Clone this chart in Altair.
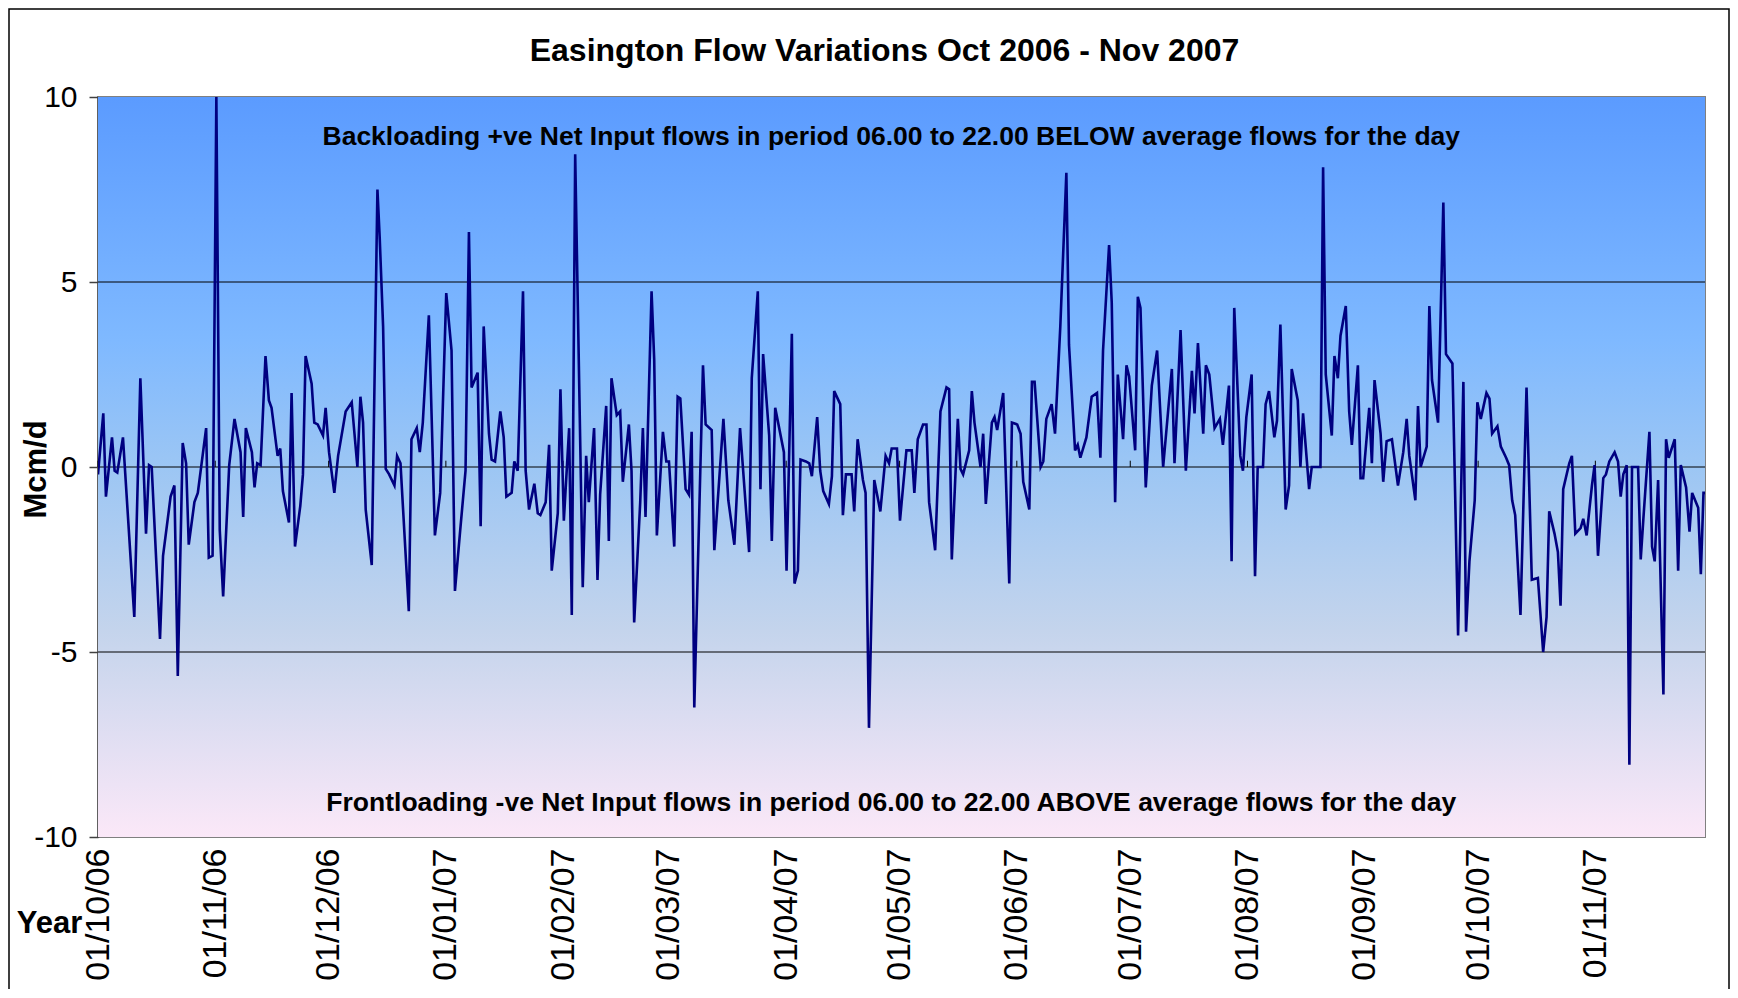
import altair as alt
import pandas as pd

# ---- data (day offset from 01/10/2006, flow in Mcm/d) ----
day_offset = [
    0.0, 1.4, 2.1, 3.7, 4.4, 5.1, 6.6, 9.6, 11.2, 12.7, 13.5, 14.2, 16.4, 17.2, 19.2, 20.2, 21.1, 22.4, 23.3, 24.0,
    25.5, 26.4, 28.6, 29.3, 30.3, 31.3, 32.2, 33.1, 34.7, 36.1, 37.7, 38.4, 39.1, 40.7, 41.4, 42.1, 43.0, 44.3,
    45.2, 45.9, 47.5, 48.2, 48.9, 50.5, 51.2, 52.1, 53.5, 54.2, 54.9, 56.5, 57.2, 58.1, 59.5, 60.2, 61.1, 62.5,
    63.5, 65.5, 67.1, 68.6, 69.4, 70.1, 70.8, 72.4, 73.9, 74.5, 75.4, 76.1, 77.0, 78.4, 79.1, 80.0, 82.2, 82.9,
    84.3, 85.1, 85.9,
    87.5, 89.1, 90.5, 92.1, 93.5, 94.4, 95.8, 97.2, 98.1, 98.8, 100.4, 101.2, 102.0, 103.4, 104.1, 105.0, 106.4,
    107.3, 108.0, 109.4, 110.1, 111.0, 112.4, 113.1, 114.0, 115.4, 116.3, 117.0, 118.4, 119.3, 120.0, 121.6, 122.3,
    123.2, 124.6, 125.3, 126.2,
    128.2, 129.1, 129.8, 131.2, 132.1, 132.8, 134.4, 135.1, 135.8, 137.2, 138.1, 138.8, 140.4, 141.1, 141.8, 143.4,
    144.1, 144.8, 146.4, 147.1, 147.8, 149.4, 150.3, 151.0, 152.4, 153.3, 154.0, 155.4, 156.3, 157.0, 157.7, 160.0,
    160.7, 162.3, 163.0, 165.4, 166.7, 168.3, 169.8,
    172.2, 172.9, 174.5, 175.2, 175.9, 177.5, 178.2, 179.1, 181.4, 182.1, 183.5, 184.2, 185.1, 185.8, 187.2, 188.1,
    188.8, 190.2, 191.0, 191.8, 193.3, 194.1, 194.7, 196.3, 197.0, 197.8, 199.3, 200.0, 200.9, 202.3, 203.0, 203.9,
    205.3, 206.9, 208.3, 209.2, 209.9, 211.3, 212.1,
    213.8, 215.2, 215.9, 216.8, 218.2, 219.1, 219.8, 221.4, 222.8, 224.4, 225.1, 225.8, 227.4, 228.1, 228.8, 230.4,
    231.1, 231.8, 233.4, 234.1, 234.8, 236.4, 237.1, 237.8, 239.4, 241.0, 241.7, 243.1, 244.0, 244.7, 246.3, 247.0,
    247.7, 249.3, 250.0, 250.8, 252.2, 253.1,
    254.5, 256.1, 256.8, 258.4, 259.1, 259.8, 261.4, 262.8, 264.2, 265.1, 265.8, 267.4, 268.1, 269.0, 269.7, 271.1,
    272.0, 272.7, 274.3, 275.0, 275.7, 277.1, 278.7, 280.1, 281.7, 284.0, 284.7, 286.3, 287.7, 289.3, 290.0, 290.9,
    292.3, 293.0, 293.9, 295.3, 296.7, 297.5,
    299.1, 299.8, 300.5, 302.1, 302.8, 303.7, 305.1, 306.0, 306.7, 308.1, 308.8, 309.7, 311.1, 311.8, 312.7, 314.1,
    315.0, 315.7, 317.3, 318.0, 318.7, 320.3, 321.0, 323.3, 324.0, 324.7, 326.3, 327.0, 327.9, 328.6, 330.0, 330.9,
    331.6, 333.2, 333.9, 334.6, 336.2, 336.9, 337.6, 339.2, 339.9,
    340.8, 342.2, 343.8, 345.2, 346.1, 346.8, 348.4, 349.1, 349.8, 351.4, 352.1, 352.8, 354.4, 355.8, 356.5, 358.2,
    359.7, 361.1, 361.8, 362.7, 364.1, 364.8, 365.7, 367.2, 368.0, 368.7, 370.1, 371.0, 372.4, 373.2, 374.0, 374.8,
    376.2, 377.8, 379.2, 380.8, 382.2,
    383.1, 383.8, 385.2, 386.1, 386.8, 387.5, 389.1, 389.8, 390.7, 392.1, 392.8, 393.7, 395.1, 395.8, 396.7, 398.1,
    398.8, 399.7, 401.1, 402.0, 402.7, 403.4, 404.3, 405.0, 405.7, 407.3, 408.0, 408.7, 410.3, 411.0, 411.7, 412.6,
    414.0, 414.7, 415.4, 417.0, 417.9, 418.6, 420.0, 420.9, 421.6, 423.2, 423.9, 424.6, 425.0,
]

flow = [
    -0.2, 1.45, -0.8, 0.8, -0.1, -0.15, 0.8, -4.05, 2.4, -1.8, 0.05, 0.0, -4.65, -2.4, -0.8, -0.5, -5.65, 0.65, 0.1, -2.1,
    -0.95, -0.7, 1.05, -2.45, -2.4, 10.0, -1.7, -3.5, 0.05, 1.3, 0.4, -1.35, 1.05, 0.4, -0.55, 0.1, 0.05, 3.0,
    1.8, 1.6, 0.3, 0.5, -0.65, -1.5, 2.0, -2.15, -1.05, -0.2, 3.0, 2.25, 1.2, 1.15, 0.85, 1.6, 0.4, -0.7,
    0.3, 1.5, 1.75, 0.0, 1.9, 1.2, -1.15, -2.65, 7.5, 6.2, 3.8, -0.05, -0.2, -0.5, 0.3, 0.1, -3.9, 0.75,
    1.05, 0.4, 1.2,
    4.1, -1.85, -0.7, 4.7, 3.15, -3.35, -1.7, -0.1, 6.35, 2.15, 2.55, -1.6, 3.8, 0.9, 0.2, 0.15, 1.5,
    0.8, -0.8, -0.7, 0.15, -0.1, 4.75, -0.1, -1.15, -0.45, -1.25, -1.3, -0.95, 0.6, -2.8, -1.25, 2.1,
    -1.45, 1.05, -4.0, 8.45,
    -3.25, 0.3, -0.95, 1.05, -3.05, -0.75, 1.65, -2.0, 2.4, 1.4, 1.5, -0.4, 1.15, -0.1, -4.2, -0.95,
    1.05, -1.35, 4.75, 2.9, -1.85, 0.95, 0.15, 0.15, -2.15, 1.9, 1.85, -0.6, -0.75, 0.95, -6.5, 2.75,
    1.15, 1.0, -2.25, 1.3, -0.9, -2.1, 1.05,
    -2.3, 2.4, 4.75, -0.6, 3.05, 0.85, -2.0, 1.6, 0.4, -2.8, 3.6, -3.15, -2.8, 0.2, 0.15, 0.1,
    -0.25, 1.35, -0.1, -0.65, -1.0, -0.25, 2.05, 1.7, -1.3, -0.2, -0.2, -1.2, 0.75, -0.35, -0.7, -7.05,
    -0.35, -1.2, 0.3, 0.1, 0.5, 0.5, -1.45,
    0.45, 0.45, -0.7, 0.75, 1.15, 1.15, -0.95, -2.25, 1.5, 2.15, 2.1, -2.5, 1.3, -0.05, -0.2, 0.45,
    2.05, 1.2, 0.0, 0.9, -1.0, 1.2, 1.35, 1.0, 2.0, -3.15, 1.2, 1.15, 0.9, -0.4, -1.15, 2.3,
    2.3, 0.0, 0.15, 1.3, 1.7, 0.9,
    3.8, 7.95, 3.3, 0.45, 0.6, 0.25, 0.8, 1.9, 2.0, 0.25, 3.15, 6.0, 4.45, -0.95, 2.5, 0.75,
    2.75, 2.45, 0.45, 4.6, 4.3, -0.55, 2.2, 3.15, 0.0, 2.65, 0.1, 3.7, -0.1, 2.6, 1.45, 3.35,
    0.9, 2.75, 2.5, 1.05, 1.3, 0.6,
    2.2, -2.55, 4.3, 0.3, -0.1, 1.35, 2.5, -2.95, 0.0, 0.0, 1.7, 2.05, 0.8, 1.25, 3.85, -1.15,
    -0.5, 2.65, 1.8, 0.0, 1.45, -0.6, 0.0, 0.0, 8.1, 2.5, 0.85, 3.0, 2.4, 3.55, 4.35, 1.5,
    0.6, 2.75, -0.3, -0.3, 1.6, 0.1, 2.35, 0.9, -0.4,
    0.7, 0.75, -0.5, 0.4, 1.3, 0.3, -0.9, 1.65, 0.0, 0.55, 4.35, 2.35, 1.2, 7.15, 3.05, 2.8,
    -4.55, 2.3, -4.45, -2.55, -0.9, 1.75, 1.3, 2.0, 1.85, 0.9, 1.1, 0.55, 0.25, 0.05, -0.9, -1.3,
    -4.0, 2.15, -3.05, -3.0, -5.0,
    -4.05, -1.2, -1.8, -2.3, -3.75, -0.6, 0.1, 0.3, -1.8, -1.65, -1.4, -1.85, -0.5, 0.05, -2.4, -0.3,
    -0.2, 0.15, 0.4, 0.15, -0.8, -0.2, 0.05, -8.05, 0.0, 0.0, -2.5, -1.4, 0.95, -2.15, -2.55, -0.35,
    -6.15, 0.75, 0.25, 0.75, -2.8, 0.05, -0.55, -1.75, -0.7, -1.1, -2.9, -0.7, -0.7,
]

tick_labels = ["01/10/06", "01/11/06", "01/12/06", "01/01/07", "01/02/07", "01/03/07", "01/04/07",
               "01/05/07", "01/06/07", "01/07/07", "01/08/07", "01/09/07", "01/10/07", "01/11/07"]
y_ticks = [-10, -5, 0, 5, 10]
grid_values = [-5, 0, 5]
axis_start = "01/10/06"
axis_end = "30/11/07"

annotation_text = [
    "Backloading +ve Net Input flows in period 06.00 to 22.00 BELOW average flows for the day",
    "Frontloading -ve Net Input flows in period 06.00 to 22.00 ABOVE average flows for the day",
]
annotation_flow = [8.92, -9.07]
annotation_day = [209.8, 209.8]

title_text = "Easington Flow Variations Oct 2006 - Nov 2007"

# ---- build tables ----
base = pd.Timestamp("2006-10-01")


def iso(d):
    return (base + pd.Timedelta(days=d)).strftime("%Y-%m-%dT%H:%M:%S")


df = pd.DataFrame({"date": [iso(d) for d in day_offset], "flow": flow})

start = pd.to_datetime(axis_start, format="%d/%m/%y")
end = pd.to_datetime(axis_end, format="%d/%m/%y")
ticks = [pd.to_datetime(t, format="%d/%m/%y") for t in tick_labels]


def dt(t):
    return alt.DateTime(year=t.year, month=t.month, date=t.day)


bg_df = pd.DataFrame({"date": [start.strftime("%Y-%m-%dT%H:%M:%S")],
                      "date_end": [end.strftime("%Y-%m-%dT%H:%M:%S")],
                      "flow": [y_ticks[0]], "flow_end": [y_ticks[-1]]})
grid_df = pd.DataFrame({"flow": grid_values})
tick_df = pd.DataFrame({"date": [t.strftime("%Y-%m-%dT%H:%M:%S") for t in ticks],
                        "flow": [0.0] * len(ticks), "flow_end": [0.17] * len(ticks)})
ann_df = pd.DataFrame({"date": [iso(d) for d in annotation_day], "flow": annotation_flow,
                       "label": annotation_text})

FONT = "Liberation Sans"
W, H = 1607, 740

x_scale = alt.Scale(domain=[dt(start), dt(end)])
y_scale = alt.Scale(domain=[y_ticks[0], y_ticks[-1]], nice=False)

x_axis = alt.Axis(values=[dt(t) for t in ticks], format="%d/%m/%y", labelAngle=-90,
                  labelFontSize=34, labelFont=FONT, labelColor="black", labelPadding=11,
                  ticks=False, domain=False, grid=False,
                  title="Year", titleFont=FONT, titleFontSize=31, titleFontWeight="bold",
                  titleColor="black", titleAngle=0, titleAlign="center", titleBaseline="middle",
                  titleX=-49, titleY=86)
y_axis = alt.Axis(values=y_ticks, labelExpr="toString(datum.value)",
                  labelFontSize=30, labelFont=FONT, labelColor="black",
                  labelPadding=12, tickSize=9, tickColor="#404040", tickWidth=1.5,
                  domainColor="#404040", domainWidth=2, grid=False,
                  title="Mcm/d", titleFont=FONT, titleFontSize=31, titleFontWeight="bold",
                  titleColor="black", titleAngle=-90, titleAlign="center", titleBaseline="middle",
                  titleX=-62, titleY=372)

X = alt.X("date:T", scale=x_scale, axis=x_axis)
Y = alt.Y("flow:Q", scale=y_scale, axis=y_axis)

gradient = alt.Gradient(
    gradient="linear", x1=0, x2=0, y1=0, y2=1,
    stops=[
        alt.GradientStop(color="#5B9BFF", offset=0.0),
        alt.GradientStop(color="#7FB9FF", offset=0.33),
        alt.GradientStop(color="#9CC6F4", offset=0.5),
        alt.GradientStop(color="#C4D4EC", offset=0.72),
        alt.GradientStop(color="#FBE8F8", offset=1.0),
    ],
)

background = alt.Chart(bg_df).mark_rect(fill=gradient).encode(
    x=X, x2="date_end:T", y=Y, y2="flow_end:Q")

grid = alt.Chart(grid_df).mark_rule(color="black", strokeWidth=1).encode(y=Y)

month_ticks = alt.Chart(tick_df).mark_rule(color="black", strokeWidth=1).encode(
    x=X, y=Y, y2="flow_end:Q")

line = alt.Chart(df).mark_line(color="#000080", strokeWidth=2.6, clip=True).encode(x=X, y=Y)

notes = alt.Chart(ann_df).mark_text(font=FONT, fontSize=26.5, fontWeight="bold", color="black",
                                    align="center", baseline="middle").encode(x=X, y=Y, text="label:N")

frame = alt.Chart(pd.DataFrame({"k": [0]})).mark_rect(
    fillOpacity=0, stroke="black", strokeWidth=1.5).encode(
    x=alt.value(-89), x2=alt.value(W + 24), y=alt.value(-88), y2=alt.value(H + 300))

chart = alt.layer(background, grid, month_ticks, line, notes, frame).properties(
    width=W, height=H,
    title=alt.TitleParams(title_text, font=FONT, fontSize=32, fontWeight="bold", color="black",
                          anchor="middle", baseline="alphabetic", dx=-17, offset=-85),
    autosize=alt.AutoSizeParams(type="none"),
    padding={"left": 90, "top": 89, "right": 25, "bottom": 152},
).configure(background="white").configure_view(stroke="#808080", strokeWidth=2)

chart.save("out.html", embed_options={"renderer": "svg", "actions": False})
